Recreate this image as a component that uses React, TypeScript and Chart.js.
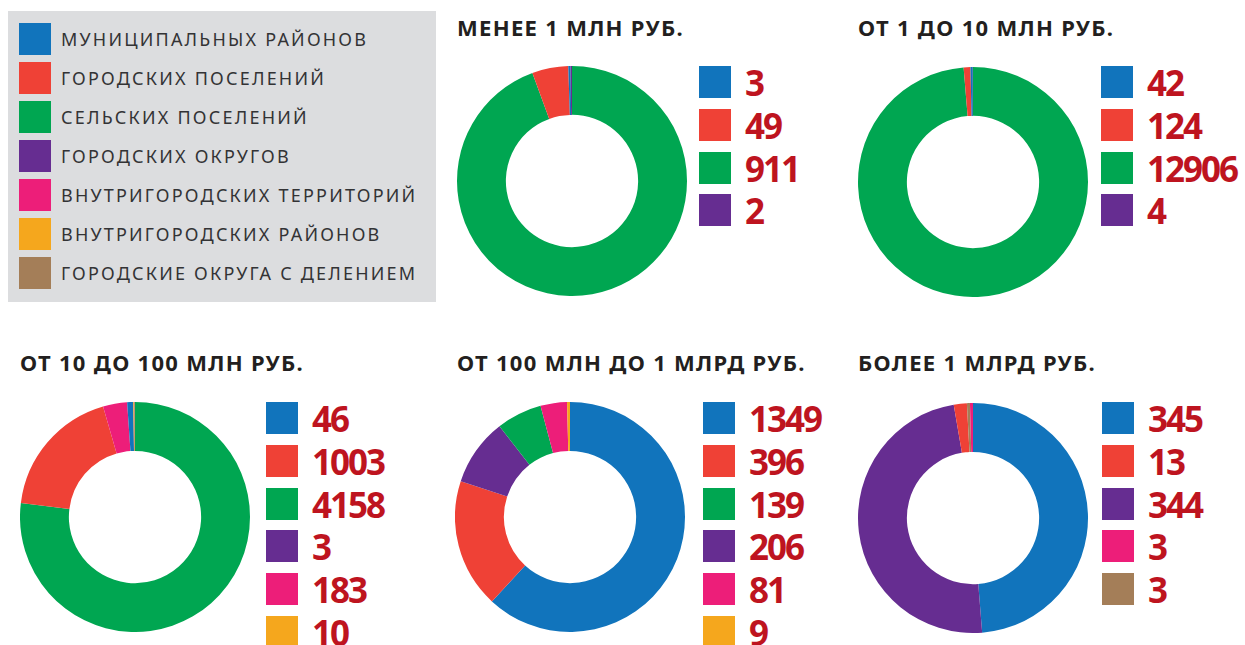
import React, { useEffect, useRef } from "react";
import { Chart, registerables } from "chart.js";

Chart.register(...registerables);

const categories = [
  "МУНИЦИПАЛЬНЫХ РАЙОНОВ",
  "ГОРОДСКИХ ПОСЕЛЕНИЙ",
  "СЕЛЬСКИХ ПОСЕЛЕНИЙ",
  "ГОРОДСКИХ ОКРУГОВ",
  "ВНУТРИГОРОДСКИХ ТЕРРИТОРИЙ",
  "ВНУТРИГОРОДСКИХ РАЙОНОВ",
  "ГОРОДСКИЕ ОКРУГА С ДЕЛЕНИЕМ",
];
const categoryColors = ["#1174bc", "#ef4136", "#00a651", "#662d91", "#ed1e79", "#f5a71d", "#a47e58"];

const titles = [
  "МЕНЕЕ 1 МЛН РУБ.",
  "ОТ 1 ДО 10 МЛН РУБ.",
  "ОТ 10 ДО 100 МЛН РУБ.",
  "ОТ 100 МЛН ДО 1 МЛРД РУБ.",
  "БОЛЕЕ 1 МЛРД РУБ.",
];

const lt1mCats = [0, 1, 2, 3];
const lt1mValues = [3, 49, 911, 2];
const m1to10Cats = [0, 1, 2, 3];
const m1to10Values = [42, 124, 12906, 4];
const m10to100Cats = [0, 1, 2, 3, 4, 5];
const m10to100Values = [46, 1003, 4158, 3, 183, 10];
const m100to1bCats = [0, 1, 2, 3, 4, 5];
const m100to1bValues = [1349, 396, 139, 206, 81, 9];
const gt1bCats = [0, 1, 3, 4, 6];
const gt1bValues = [345, 13, 344, 3, 3];

const NUM_COLOR = "#be141f";
const R = 115;

type PanelProps = {
  title: string;
  cats: number[];
  values: number[];
  cx: number;
  cy: number;
  titleX: number;
  titleY: number;
  listX: number;
  listY: number;
};

function Donut({ cats, values, cx, cy }: { cats: number[]; values: number[]; cx: number; cy: number }) {
  const ref = useRef<HTMLCanvasElement | null>(null);
  useEffect(() => {
    if (!ref.current) return;
    const order = cats.map((c, i) => i).sort((a, b) => values[b] - values[a] || cats[b] - cats[a]);
    const chart = new Chart(ref.current, {
      type: "doughnut",
      data: {
        labels: order.map((i) => categories[cats[i]]),
        datasets: [
          {
            data: order.map((i) => values[i]),
            backgroundColor: order.map((i) => categoryColors[cats[i]]),
            borderWidth: 0,
          },
        ],
      },
      options: {
        responsive: false,
        animation: false,
        cutout: "57.5%",
        layout: { padding: 0 },
        plugins: { legend: { display: false }, tooltip: { enabled: false } },
      },
    });
    return () => chart.destroy();
  }, []);
  return (
    <canvas
      ref={ref}
      width={2 * R}
      height={2 * R}
      style={{ position: "absolute", left: cx - R, top: cy - R, width: 2 * R, height: 2 * R }}
    />
  );
}

function Panel(p: PanelProps) {
  return (
    <>
      <div
        style={{
          position: "absolute",
          left: p.titleX,
          top: p.titleY,
          fontFamily: "'Noto Sans', sans-serif",
          fontWeight: 700,
          fontSize: 22,
          letterSpacing: "1.3px",
          lineHeight: "24px",
          color: "#231f20",
          whiteSpace: "nowrap",
        }}
      >
        {p.title}
      </div>
      <Donut cats={p.cats} values={p.values} cx={p.cx} cy={p.cy} />
      {p.cats.map((c, i) => (
        <div
          key={i}
          style={{
            position: "absolute",
            left: p.listX,
            top: p.listY + i * 42.8,
            height: 32,
            display: "flex",
            alignItems: "center",
            whiteSpace: "nowrap",
          }}
        >
          <div style={{ width: 32, height: 32, background: categoryColors[c] }} />
          <div
            style={{
              marginLeft: 14,
              fontFamily: "'Noto Sans', sans-serif",
              fontWeight: 700,
              fontSize: 35,
              lineHeight: "32px",
              letterSpacing: "-2px",
              color: NUM_COLOR,
              position: "relative",
              top: 1,
            }}
          >
            {p.values[i]}
          </div>
        </div>
      ))}
    </>
  );
}

export default function App() {
  return (
    <div style={{ position: "absolute", left: 0, top: 0, width: 1245, height: 645, background: "#fff", overflow: "hidden" }}>
      <div style={{ position: "absolute", left: 8, top: 11, width: 428, height: 291, background: "#dcdddf" }}>
        {categories.map((c, i) => (
          <div
            key={i}
            style={{
              position: "absolute",
              left: 11,
              top: 12 + i * 39,
              height: 32,
              display: "flex",
              alignItems: "center",
              whiteSpace: "nowrap",
            }}
          >
            <div style={{ width: 32, height: 32, background: categoryColors[i] }} />
            <div
              style={{
                marginLeft: 10,
                fontFamily: "'Noto Sans', sans-serif",
                fontWeight: 400,
                fontSize: 18,
                letterSpacing: "2.2px",
                color: "#333335",
                lineHeight: "32px",
              }}
            >
              {c}
            </div>
          </div>
        ))}
      </div>
      <Panel title={titles[0]} cats={lt1mCats} values={lt1mValues} cx={572} cy={181} titleX={457} titleY={15} listX={699} listY={66} />
      <Panel title={titles[1]} cats={m1to10Cats} values={m1to10Values} cx={972.5} cy={181.5} titleX={858} titleY={15} listX={1101} listY={66} />
      <Panel title={titles[2]} cats={m10to100Cats} values={m10to100Values} cx={134.5} cy={516.5} titleX={20} titleY={350} listX={266} listY={402} />
      <Panel title={titles[3]} cats={m100to1bCats} values={m100to1bValues} cx={570} cy={516.5} titleX={457} titleY={350} listX={703} listY={402} />
      <Panel title={titles[4]} cats={gt1bCats} values={gt1bValues} cx={972.5} cy={518} titleX={858} titleY={350} listX={1102} listY={402} />
    </div>
  );
}
